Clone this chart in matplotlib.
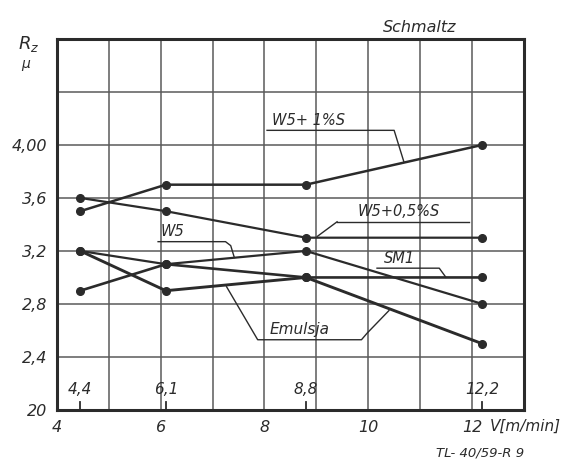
import matplotlib
matplotlib.use("Agg")
import matplotlib.pyplot as plt

# cutting speed V [m/min] and roughness Rz [micron]
speeds = [4.45, 6.1, 8.8, 12.2]
speed_labels = ["4,4", "6,1", "8,8", "12,2"]
rz_w5_1s = [3.5, 3.7, 3.7, 4.0]
rz_w5_05s = [3.6, 3.5, 3.3, 3.3]
rz_w5 = [3.2, 3.1, 3.2, 2.8]
rz_sm1 = [2.9, 3.1, 3.0, 3.0]
rz_emulsja = [3.2, 2.9, 3.0, 2.5]

xticks = [4, 6, 8, 10, 12]
xtick_labels = ["4", "6", "8", "10", "12"]
yticks = [2.0, 2.4, 2.8, 3.2, 3.6, 4.0]
ytick_labels = ["20", "2,4", "2,8", "3,2", "3,6", "4,00"]

INK = "#2b2b2b"
GRID = "#5a5a5a"
FONT = dict(family="DejaVu Sans", style="italic", color=INK)

fig = plt.figure(figsize=(5.75, 4.63), dpi=100)
ax = fig.add_axes([0.099, 0.1145, 0.812, 0.8015])
ax.set_xlim(4, 13)
ax.set_ylim(2.0, 4.8)

# grid
for gx in range(5, 13):
    ax.axvline(gx, color=GRID, lw=1.1, zorder=1)
for gy in [2.4, 2.8, 3.2, 3.6, 4.0, 4.4]:
    ax.axhline(gy, color=GRID, lw=1.1, zorder=1)
for s in ax.spines.values():
    s.set_linewidth(2.2)
    s.set_color(INK)

series = [(rz_w5_1s, 1.8), (rz_w5_05s, 1.6), (rz_w5, 1.6),
          (rz_sm1, 1.9), (rz_emulsja, 2.1)]
for vals, lw in series:
    ax.plot(speeds, vals, color=INK, lw=lw, marker="o", ms=5.5,
            mfc=INK, mec=INK, solid_capstyle="round", zorder=3)

# ticks
ax.set_xticks(xticks, xtick_labels)
ax.set_yticks(yticks, ytick_labels)
ax.tick_params(length=0, labelsize=11.5)
ax.tick_params(axis="x", pad=7)
ax.tick_params(axis="y", pad=7)
for lab in ax.get_xticklabels() + ax.get_yticklabels():
    lab.set_fontstyle("italic")
    lab.set_color(INK)

# measured speeds marked along the bottom
for sx, sl in zip(speeds, speed_labels):
    ax.plot([sx, sx], [2.0, 2.06], color=INK, lw=1.3, zorder=2)
    ax.text(sx, 2.1, sl, ha="center", va="bottom", fontsize=11, **FONT)

# labels with leader lines
def leader(pts, **kw):
    xs, ys = zip(*pts)
    ax.plot(xs, ys, color=INK, lw=1.0, zorder=2, clip_on=False, **kw)

ax.text(8.15, 4.13, "W5+ 1%S", fontsize=10.5, va="bottom", **FONT)
leader([(8.05, 4.11), (10.5, 4.11), (10.69, 3.87)])

ax.text(9.8, 3.44, "W5+0,5%S", fontsize=10.5, va="bottom", **FONT)
leader([(9.4, 3.42), (11.95, 3.42)])
leader([(9.4, 3.42), (9.02, 3.31)])

ax.text(6.0, 3.29, "W5", fontsize=10.5, va="bottom", **FONT)
leader([(5.95, 3.27), (7.25, 3.27), (7.35, 3.24), (7.42, 3.15)])

ax.text(10.3, 3.09, "SM1", fontsize=10.5, va="bottom", **FONT)
leader([(10.17, 3.07), (11.37, 3.07), (11.5, 3.0)])

ax.text(8.1, 2.55, "Emulsja", fontsize=11, va="bottom", **FONT)
leader([(7.27, 2.93), (7.87, 2.53), (9.87, 2.53), (9.98, 2.58), (10.4, 2.75)])

# axis titles and marks around the frame
fig.text(0.05, 0.905, r"$R_z$", fontsize=13, color=INK, ha="center", va="center")
fig.text(0.045, 0.862, "\u03bc", fontsize=10, ha="center", va="center", **FONT)
ax.text(12.35, 1.93, "V[m/min]", fontsize=11, ha="left", va="top",
        clip_on=False, **FONT)
fig.text(0.73, 0.93, "Schmaltz", fontsize=11.5, ha="center", **FONT)
fig.text(0.835, 0.015, "TL- 40/59-R 9", fontsize=9.5, ha="center", **FONT)

fig.savefig("out.png", dpi=100)
